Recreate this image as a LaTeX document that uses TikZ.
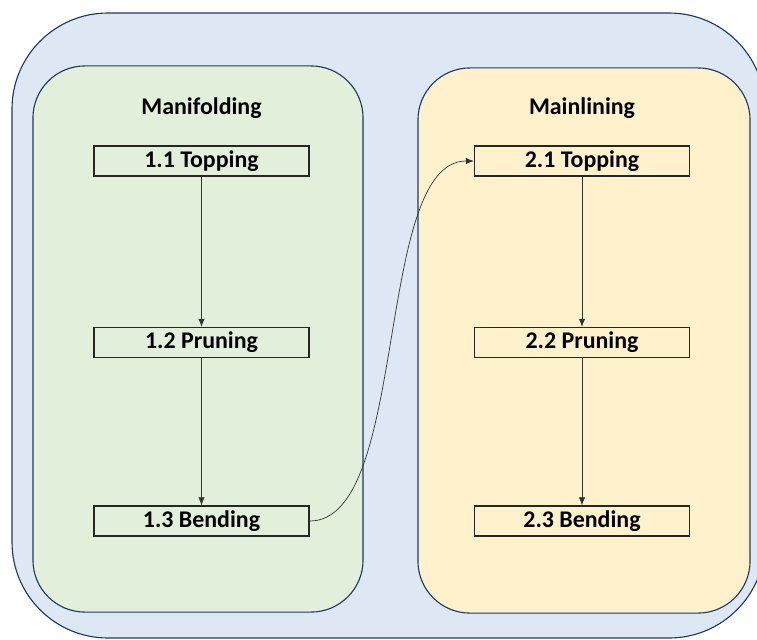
\documentclass[tikz,border=0pt]{standalone}
\usepackage{fontspec}
\setmainfont{Carlito}
\usetikzlibrary{arrows.meta}

\definecolor{navy}{HTML}{203864}
\definecolor{outerblue}{HTML}{DEE8F4}
\definecolor{mfgreen}{HTML}{E2EFDA}
\definecolor{mlyellow}{HTML}{FFF1CC}

\begin{document}
\begin{tikzpicture}[x=0.025cm, y=-0.025cm,
	every node/.style={font=\fontsize{17}{20}\selectfont\bfseries},
	panel/.style={draw=navy, line width=0.8pt, rounded corners=1.3cm, inner sep=0pt},
	task/.style={draw=black!85, line width=1pt, minimum width=5.375cm, minimum height=0.75cm, inner sep=0pt},
	flow/.style={-{Latex[length=2mm,width=1.6mm]}, line width=0.5pt, black!80}]
	\path[use as bounding box, clip] (0,0) rectangle (757,639);
	% outer frame
	\draw[navy, fill=outerblue, line width=0.8pt, rounded corners=2.4cm] (12,13) rectangle (765,638);
	% the two stages
	\node[panel, fill=mfgreen, minimum width=8.25cm, minimum height=13.65cm] (P1) at (198,339) {};
	\node[panel, fill=mlyellow, minimum width=8.3cm, minimum height=13.625cm] (P2) at (584,340.5) {};
	\node (h1) at (201.5,108) {Manifolding};
	\node (h2) at (582,108) {Mainlining};
	% steps
	\node[task] (t11) at (201.5,161) {1.1 Topping};
	\node[task] (t12) at (201.5,342.5) {1.2 Pruning};
	\node[task] (t13) at (201.5,521) {1.3 Bending};
	\node[task] (t21) at (582,161) {2.1 Topping};
	\node[task] (t22) at (582,342.5) {2.2 Pruning};
	\node[task] (t23) at (582,521) {2.3 Bending};
	\foreach \a/\b in {t11/t12, t12/t13, t21/t22, t22/t23} {\draw[flow] (\a) -- (\b);}
	\draw[flow] (t13.east) .. controls +(100,0) and +(-100,0) .. (t21.west);
\end{tikzpicture}
\end{document}
